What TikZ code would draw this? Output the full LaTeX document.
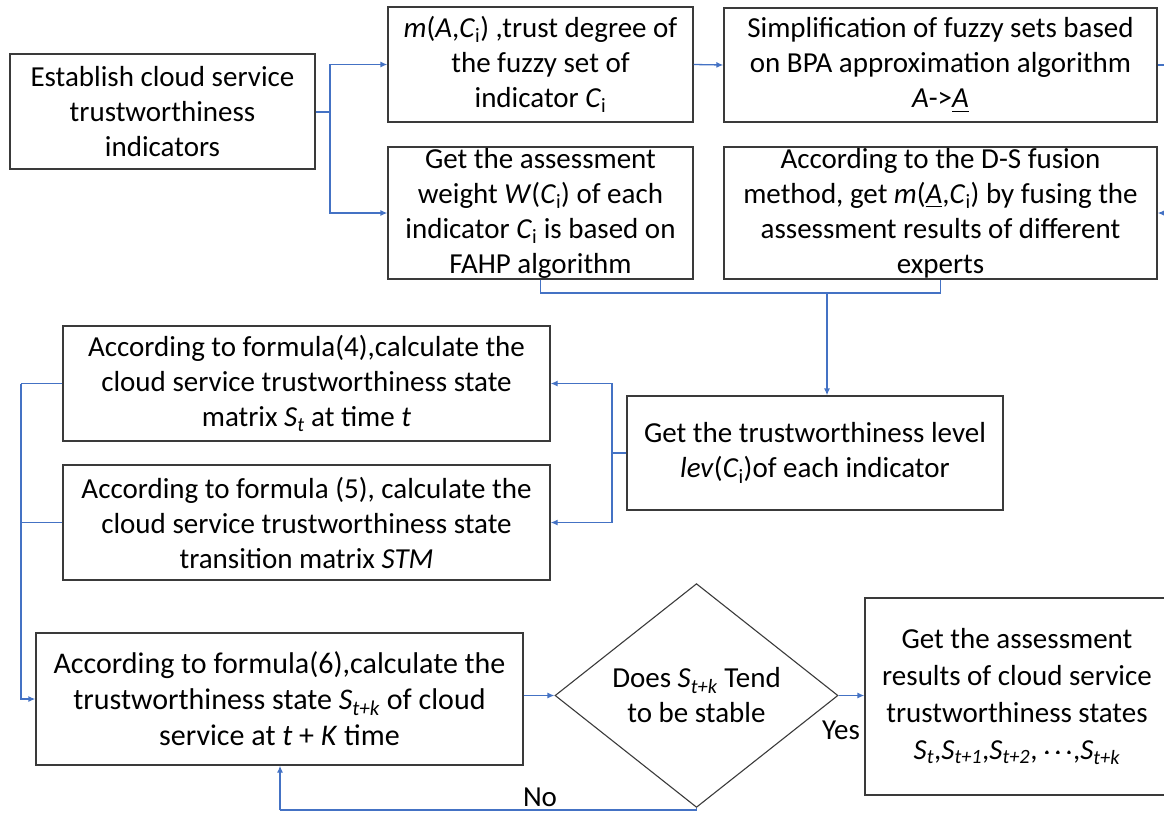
\documentclass[tikz,border=0pt]{standalone}
\usepackage{amsmath}
\usepackage{fontspec}
\setmainfont{Carlito}
\usetikzlibrary{arrows.meta,shapes.geometric}
\definecolor{lineblue}{HTML}{4472C4}
\definecolor{boxgray}{HTML}{3A3A3A}
\newcommand\Ssub[2]{\textit{#1}\textsubscript{\textit{#2}}}
\newcommand\Ci{\textit{C}\textsubscript{i}}
\tikzset{
  stepbox/.style={draw=boxgray, line width=1.3pt, align=center, inner sep=0pt, font=\fontsize{29}{35}\selectfont},
  decision/.style={diamond, draw=boxgray, line width=1.1pt, align=center, inner sep=0pt, font=\fontsize{29}{35}\selectfont},
  conn/.style={draw=lineblue, line width=1.3pt},
  arr/.style={conn, -{Latex[length=7pt,width=6pt]}},
  lbl/.style={font=\fontsize{29}{35}\selectfont, inner sep=0pt}
}
\begin{document}
\begin{tikzpicture}[x=1pt,y=-1pt]
\useasboundingbox (0,0) rectangle (1164,812);
% boxes
\node[stepbox, minimum width=305pt, minimum height=115pt] (est) at (162.5,111.5) {Establish cloud service\\trustworthiness\\indicators};
\node[stepbox, minimum width=305pt, minimum height=115pt] (mac) at (540.5,64.5) {\textit{m}(\textit{A},\Ci) ,trust degree of\\the fuzzy set of\\indicator \Ci};
\node[stepbox, minimum width=433pt, minimum height=114pt] (simp) at (940.5,65) {Simplification of fuzzy sets based\\on BPA approximation algorithm\\\textit{A}->\underline{\textit{A}}};
\node[stepbox, minimum width=305pt, minimum height=132pt] (wgt) at (540.5,213) {Get the assessment\\weight \textit{W}(\Ci) of each\\indicator \Ci{} is based on\\FAHP algorithm};
\node[stepbox, minimum width=433pt, minimum height=132pt] (ds) at (940.5,213) {According to the D-S fusion\\method, get \textit{m}(\underline{\textit{A}},\Ci) by fusing the\\assessment results of different\\experts};
\node[stepbox, minimum width=376pt, minimum height=114pt] (lev) at (815,453) {Get the trustworthiness level\\\textit{lev}(\Ci)of each indicator};
\node[stepbox, minimum width=487pt, minimum height=115pt] (st) at (306.5,383.5) {According to formula(4),calculate the\\cloud service trustworthiness state\\matrix \Ssub{S}{t} at time \textit{t}};
\node[stepbox, minimum width=487pt, minimum height=115pt] (stm) at (306.5,522.5) {According to formula (5), calculate the\\cloud service trustworthiness state\\transition matrix \textit{STM}};
\node[stepbox, minimum width=487pt, minimum height=132pt, font=\fontsize{30}{36}\selectfont] (f6) at (279.5,699) {According to formula(6),calculate the\\trustworthiness state \Ssub{S}{t+k} of cloud\\service at \textit{t} + \textit{K} time};
\node[decision, minimum width=283pt, minimum height=195pt] (dec) at (696.5,695.5) {Does \Ssub{S}{t+k} Tend\\to be stable};
\node[stepbox, minimum width=304pt, minimum height=197pt, font=\fontsize{29}{37}\selectfont] (res) at (1017,696.5) {Get the assessment\\results of cloud service\\trustworthiness states\\\Ssub{S}{t},\Ssub{S}{t+1},\Ssub{S}{t+2}, $\pmb{\cdots}$,\Ssub{S}{t+k}};
% junction coordinates
\coordinate (j1) at (330,112);
\coordinate (j2) at (1175,65);
\coordinate (j3) at (827,293);
\coordinate (j4) at (612,453);
\coordinate (j5) at (21,383.5);
\coordinate (j6) at (280,810);
% connectors
\draw[conn] (est.east |- j1) -- (j1);
\draw[arr] (j1) |- (mac.west);
\draw[arr] (j1) |- (wgt.west);
\draw[arr] (mac.east) -- (simp.west);
\draw[conn] (simp.east) -- (j2);
\draw[arr] (j2) |- (ds.east);
\draw[conn] (wgt.south) |- (j3);
\draw[conn] (ds.south) |- (j3);
\draw[arr] (j3) -- (j3 |- lev.north);
\draw[conn] (lev.west |- j4) -- (j4);
\draw[arr] (j4) |- (st.east);
\draw[arr] (j4) |- (stm.east);
\draw[conn] (st.west) -- (j5);
\draw[conn] (stm.west) -| (j5);
\draw[arr] (j5) |- (f6.west);
\draw[arr] (f6.east |- dec.west) -- (dec.west);
\draw[arr] (dec.east) -- (dec.east -| res.west);
\draw[conn] (dec.south) |- (j6);
\draw[arr] (j6) -- (j6 |- f6.south);
% labels
\node[lbl] (yes) at (841,730) {Yes};
\node[lbl] (no) at (540,797) {No};
\end{tikzpicture}
\end{document}
